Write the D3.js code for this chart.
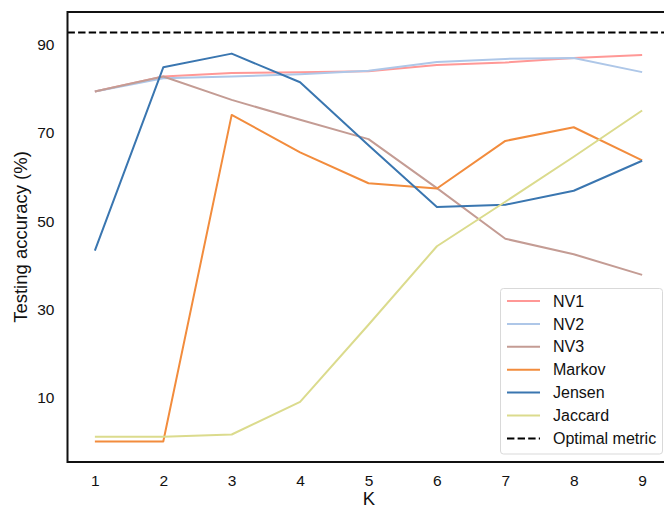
<!DOCTYPE html>
<html>
<head>
<meta charset="utf-8">
<script src="https://cdn.jsdelivr.net/npm/d3@7"></script>
<style>
  html, body { margin: 0; padding: 0; background: #fff; }
  svg { display: block; font-family: "Liberation Sans", Arial, sans-serif; }
</style>
</head>
<body>
<svg id="chart" width="664" height="509"></svg>
<script>
// K values on the x axis
const kValues = [1, 2, 3, 4, 5, 6, 7, 8, 9];

// Testing accuracy (%) for each metric
const nv1     = [79.4, 82.8, 83.6, 83.8, 84.0, 85.4, 86.0, 87.0, 87.7];
const nv2     = [79.4, 82.4, 82.8, 83.3, 84.1, 86.1, 86.8, 87.0, 83.8];
const nv3     = [79.4, 82.8, 77.5, 73.0, 68.6, 57.5, 46.0, 42.5, 37.8];
const markov  = [0.0, 0.0, 74.1, 65.6, 58.6, 57.4, 68.2, 71.3, 63.8];
const jensen  = [43.3, 84.9, 88.0, 81.5, 67.2, 53.2, 53.7, 56.9, 63.7];
const jaccard = [1.1, 1.1, 1.6, 9.0, 26.5, 44.3, 54.4, 64.6, 75.1];

// Reference level for the optimal metric
const optimalMetric = 92.8;

const seriesNames = ["NV1", "NV2", "NV3", "Markov", "Jensen", "Jaccard"];
const seriesValues = [nv1, nv2, nv3, markov, jensen, jaccard];
const seriesColors = ["#ff9896", "#aec7e8", "#c49c94", "#f28c3d", "#3a76b0", "#dbdb8d"];

const xTicks = [1, 2, 3, 4, 5, 6, 7, 8, 9];
const yTicks = [10, 30, 50, 70, 90];

const svg = d3.select("#chart");
const margin = { left: 67.5, top: 12, right: -5.5, bottom: 47 };
const W = 664, H = 509;
const x0 = margin.left, x1 = W - margin.right;
const y0 = margin.top, y1 = H - margin.bottom;

// Axis limits padded by 5% of the data span on each side
const xPad = (d3.max(kValues) - d3.min(kValues)) * 0.05;
const x = d3.scaleLinear()
  .domain([d3.min(kValues) - xPad, d3.max(kValues) + xPad])
  .range([x0, x1]);

const yMin = 0, yMax = optimalMetric;
const yPad = (yMax - yMin) * 0.05;
const y = d3.scaleLinear()
  .domain([yMin - yPad, yMax + yPad])
  .range([y1, y0]);

const tickFont = 15.5;

// Axes: labels only, no tick marks
const xAxis = svg.append("g")
  .attr("transform", `translate(0,${y1})`)
  .call(d3.axisBottom(x).tickValues(xTicks).tickSize(0).tickPadding(13).tickFormat(d3.format("d")));
xAxis.select(".domain").remove();
xAxis.selectAll("text").attr("font-size", tickFont).attr("fill", "#111").style("font-family", "Liberation Sans, Arial, sans-serif");

const yAxis = svg.append("g")
  .attr("transform", `translate(${x0},0)`)
  .call(d3.axisLeft(y).tickValues(yTicks).tickSize(0).tickPadding(13).tickFormat(d3.format("d")));
yAxis.select(".domain").remove();
yAxis.selectAll("text").attr("font-size", tickFont).attr("fill", "#111").style("font-family", "Liberation Sans, Arial, sans-serif");

// Axis titles
svg.append("text")
  .attr("x", 369)
  .attr("y", 505)
  .attr("text-anchor", "middle")
  .attr("font-size", 18.5)
  .attr("fill", "#111")
  .text("K");

svg.append("text")
  .attr("transform", `translate(27,${(y0 + y1) / 2}) rotate(-90)`)
  .attr("text-anchor", "middle")
  .attr("font-size", 18.5)
  .attr("fill", "#111")
  .text("Testing accuracy (%)");

// Clip lines to the plotting area
svg.append("clipPath").attr("id", "plotClip")
  .append("rect").attr("x", x0).attr("y", y0).attr("width", x1 - x0).attr("height", y1 - y0);

const plot = svg.append("g").attr("clip-path", "url(#plotClip)");

const line = d3.line()
  .x((d, i) => x(kValues[i]))
  .y(d => y(d));

seriesValues.forEach((vals, i) => {
  plot.append("path")
    .datum(vals)
    .attr("d", line)
    .attr("fill", "none")
    .attr("stroke", seriesColors[i])
    .attr("stroke-width", 2)
    .attr("stroke-linejoin", "round");
});

// Optimal metric horizontal dashed line
plot.append("line")
  .attr("x1", x0).attr("x2", x1)
  .attr("y1", y(optimalMetric)).attr("y2", y(optimalMetric))
  .attr("stroke", "#000")
  .attr("stroke-width", 2)
  .attr("stroke-dasharray", "7.4,3.2");

// Frame
svg.append("rect")
  .attr("x", x0).attr("y", y0)
  .attr("width", x1 - x0).attr("height", y1 - y0)
  .attr("fill", "none")
  .attr("stroke", "#111")
  .attr("stroke-width", 2);

// Legend
const legendNames = seriesNames.concat(["Optimal metric"]);
const legendColors = seriesColors.concat(["#000"]);
const legend = svg.append("g");
legend.append("rect")
  .attr("x", 500.5).attr("y", 288.5)
  .attr("width", 162).attr("height", 165.5)
  .attr("rx", 3)
  .attr("fill", "#fff")
  .attr("fill-opacity", 0.85)
  .attr("stroke", "#d9d9d9")
  .attr("stroke-width", 1);

legendNames.forEach((name, i) => {
  const ly = 301 + i * 22.9;
  legend.append("line")
    .attr("x1", 507).attr("x2", 540)
    .attr("y1", ly).attr("y2", ly)
    .attr("stroke", legendColors[i])
    .attr("stroke-width", 2)
    .attr("stroke-dasharray", i === legendNames.length - 1 ? "7.4,3.2" : null);
  legend.append("text")
    .attr("x", 553)
    .attr("y", ly)
    .attr("dy", "0.35em")
    .attr("font-size", 16)
    .attr("fill", "#111")
    .text(name);
});
</script>
</body>
</html>
